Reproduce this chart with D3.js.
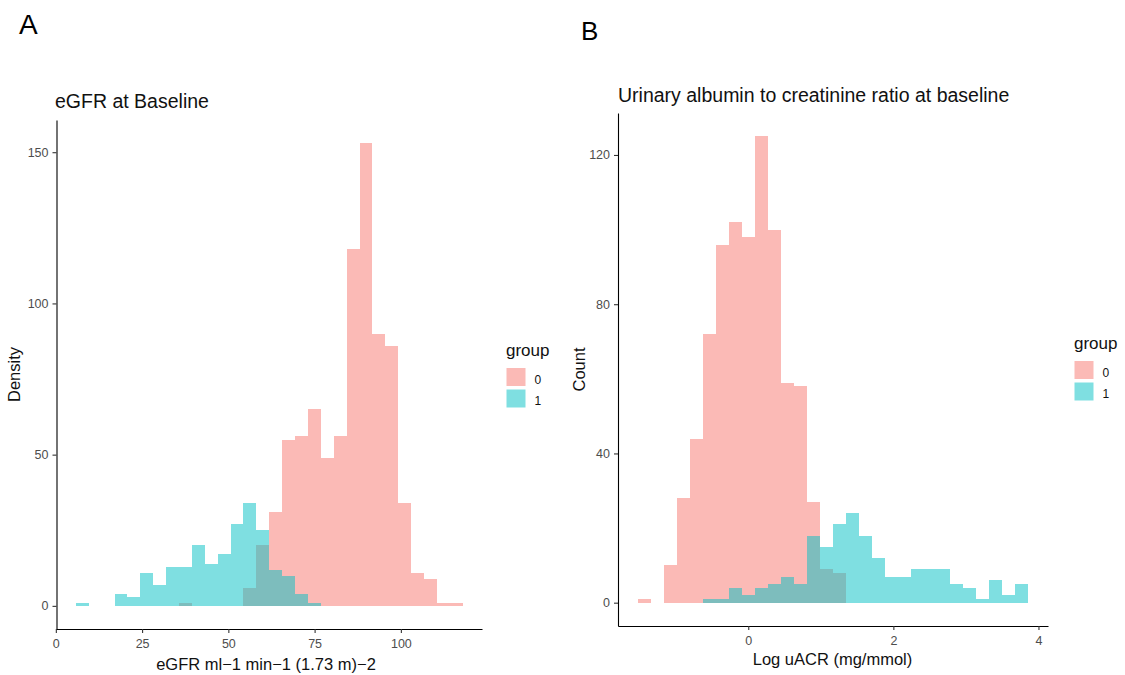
<!DOCTYPE html>
<html>
<head>
<meta charset="utf-8">
<script src="https://cdn.jsdelivr.net/npm/d3@7"></script>
<style>
  body { margin: 0; background: #fff; }
  svg { display: block; font-family: "Liberation Sans", Arial, sans-serif; }
</style>
</head>
<body>
<svg id="fig" width="1125" height="675"></svg>
<script>
// ---- eGFR at baseline: 30-bin histogram counts per group ----
const egfrBinStart = 5.8;
const egfrBinWidth = 3.737;
const egfrGroup0 = [0, 0, 0, 0, 0, 0, 0, 0, 1, 0, 0, 0, 0, 6, 20, 31, 55, 56, 65, 49, 56, 118, 153, 90, 86, 34, 11, 9, 1, 1];
const egfrGroup1 = [1, 0, 0, 4, 3, 11, 7, 13, 13, 20, 14, 17, 27, 34, 25, 12, 10, 4, 1, 0, 0, 0, 0, 0, 0, 0, 0, 0, 0, 0];
const egfrTicksX = [0, 25, 50, 75, 100];
const egfrTicksY = [0, 50, 100, 150];

// ---- log uACR at baseline: 30-bin histogram counts per group ----
const uacrBinStart = -1.526;
const uacrBinWidth = 0.1796;
const uacrGroup0 = [1, 0, 10, 28, 44, 72, 96, 102, 98, 125, 100, 59, 58, 27, 9, 8, 0, 0, 0, 0, 0, 0, 0, 0, 0, 0, 0, 0, 0, 0];
const uacrGroup1 = [0, 0, 0, 0, 0, 1, 1, 4, 2, 4, 5, 7, 5, 18, 15, 21, 24, 18, 12, 7, 7, 9, 9, 9, 5, 4, 1, 6, 2, 5];
const uacrTicksX = [0, 2, 4];
const uacrTicksY = [0, 40, 80, 120];

const groupNames = ["0", "1"];
const groupColors = ["#F8766D", "#00BFC4"];

const svg = d3.select("#fig");

function drawPanel(p) {
  const g = svg.append("g");
  const nBins = p.series[0].length;
  const lo = p.binStart, hi = p.binStart + nBins * p.binWidth;
  const padX = 0.05 * (hi - lo);
  const yMax = d3.max(p.series.flat());
  const padY = 0.05 * yMax;

  const x = d3.scaleLinear().domain([lo - padX, hi + padX]).range([p.left, p.right]);
  const y = d3.scaleLinear().domain([-padY, yMax + padY]).range([p.bottom, p.top]);

  // bars: group 0 first, group 1 on top, both half transparent
  p.series.forEach((counts, gi) => {
    const bins = counts.map((c, k) => ({
      x0: p.binStart + k * p.binWidth,
      x1: p.binStart + (k + 1) * p.binWidth,
      c
    })).filter(d => d.c > 0);
    g.append("g")
      .selectAll("rect")
      .data(bins)
      .join("rect")
      .attr("x", d => x(d.x0))
      .attr("width", d => x(d.x1) - x(d.x0))
      .attr("y", d => y(d.c))
      .attr("height", d => y(0) - y(d.c))
      .attr("fill", groupColors[gi])
      .attr("fill-opacity", 0.5)
      .attr("shape-rendering", "crispEdges");
  });

  const styleAxis = sel => {
    sel.select(".domain").attr("stroke", "#000").attr("stroke-width", 1.1);
    sel.selectAll(".tick line").attr("stroke", "#333").attr("stroke-width", 1.1);
    sel.selectAll(".tick text")
      .attr("fill", "#4D4D4D")
      .style("font-size", "12.5px")
      .style("font-family", '"Liberation Sans", Arial, sans-serif');
  };

  g.append("g")
    .attr("transform", `translate(0,${p.bottom})`)
    .call(d3.axisBottom(x).tickValues(p.ticksX).tickFormat(d3.format("d"))
      .tickSize(4).tickSizeOuter(0).tickPadding(6))
    .call(styleAxis);

  g.append("g")
    .attr("transform", `translate(${p.left},0)`)
    .call(d3.axisLeft(y).tickValues(p.ticksY).tickFormat(d3.format("d"))
      .tickSize(4).tickSizeOuter(0).tickPadding(4))
    .call(styleAxis);

  // titles
  g.append("text")
    .attr("x", p.titleX).attr("y", p.titleY)
    .attr("fill", "#111").style("font-size", "19.5px")
    .text(p.title);

  g.append("text")
    .attr("x", p.xTitleX).attr("y", p.xTitleY)
    .attr("text-anchor", "middle")
    .attr("fill", "#111").style("font-size", "16.5px")
    .text(p.xTitle);

  // y title centred on the panel
  g.append("text")
    .attr("transform", `translate(${p.yTitleX},${(p.top + p.bottom) / 2}) rotate(-90)`)
    .attr("text-anchor", "middle")
    .attr("fill", "#111").style("font-size", "16.5px")
    .text(p.yTitle);

  // panel tag
  svg.append("text")
    .attr("x", p.tagX).attr("y", p.tagY)
    .attr("fill", "#000").style("font-size", p.tagSize)
    .text(p.tag);

  // legend
  const lg = svg.append("g").attr("transform", `translate(${p.legX},${p.legY})`);
  lg.append("text").attr("x", 0).attr("y", 0)
    .attr("fill", "#111").style("font-size", "17px").text("group");
  groupNames.forEach((name, i) => {
    lg.append("rect")
      .attr("x", 0.5).attr("y", 12 + i * 21.5)
      .attr("width", 19).attr("height", 18)
      .attr("fill", groupColors[i]).attr("fill-opacity", 0.5);
    lg.append("text")
      .attr("x", 28.5).attr("y", 27.5 + i * 21)
      .attr("fill", "#111").style("font-size", "12px")
      .text(name);
  });
}

drawPanel({
  series: [egfrGroup0, egfrGroup1],
  binStart: egfrBinStart, binWidth: egfrBinWidth,
  ticksX: egfrTicksX, ticksY: egfrTicksY,
  left: 56.5, right: 482, top: 120, bottom: 629,
  title: "eGFR at Baseline", titleX: 55, titleY: 108,
  xTitle: "eGFR ml\u22121 min\u22121 (1.73 m)\u22122", xTitleX: 266, xTitleY: 670,
  yTitle: "Density", yTitleX: 20,
  tag: "A", tagX: 19, tagY: 34, tagSize: "28px",
  legX: 506, legY: 356
});

drawPanel({
  series: [uacrGroup0, uacrGroup1],
  binStart: uacrBinStart, binWidth: uacrBinWidth,
  ticksX: uacrTicksX, ticksY: uacrTicksY,
  left: 618, right: 1048, top: 113, bottom: 626,
  title: "Urinary albumin to creatinine ratio at baseline", titleX: 618, titleY: 102,
  xTitle: "Log uACR (mg/mmol)", xTitleX: 832.5, xTitleY: 665,
  yTitle: "Count", yTitleX: 585,
  tag: "B", tagX: 581, tagY: 40, tagSize: "26px",
  legX: 1074, legY: 349
});
</script>
</body>
</html>
